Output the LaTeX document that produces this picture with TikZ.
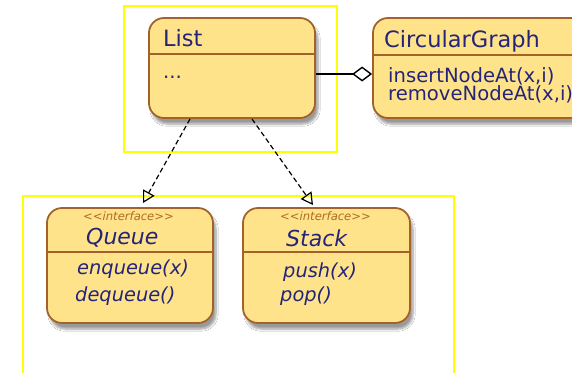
\documentclass[tikz,border=0pt]{standalone}
\usepackage{fontspec}
\setmainfont{DejaVu Sans}
\usetikzlibrary{arrows.meta,shadows.blur}
\definecolor{clsfill}{RGB}{255,227,138}
\definecolor{clsborder}{RGB}{164,98,42}
\definecolor{txtblue}{RGB}{36,36,120}
\definecolor{stereo}{RGB}{176,106,40}
\definecolor{pkgyellow}{RGB}{255,255,0}
\tikzset{
  cls/.style={draw=clsborder, fill=clsfill, line width=1.8pt, rounded corners=15pt,
    blur shadow={shadow xshift=3pt, shadow yshift=-6pt, shadow blur steps=8, shadow blur extra rounding=4pt, shadow opacity=40},
    inner sep=0pt},
  divider/.style={draw=clsborder, line width=1.5pt},
  pkg/.style={draw=pkgyellow, line width=2pt},
  ttl/.style={anchor=base west, inner sep=0pt, text=txtblue, font=\fontsize{22.5}{27}\selectfont},
  ittl/.style={anchor=base west, inner sep=0pt, text=txtblue, font=\fontsize{22}{27}\selectfont\itshape},
  meth/.style={anchor=base west, inner sep=0pt, text=txtblue, font=\fontsize{19.6}{23}\selectfont},
  imeth/.style={anchor=base west, inner sep=0pt, text=txtblue, font=\fontsize{19.4}{23}\selectfont\itshape},
  stereotype/.style={anchor=base west, inner sep=0pt, text=stereo, font=\fontsize{11.6}{14}\selectfont\itshape},
  dep/.style={dash pattern=on 5pt off 3pt, line width=1.2pt, -{Triangle[open, length=12pt, width=13pt, line width=1.2pt]}},
  agg/.style={line width=1.4pt, -{Diamond[open, length=20pt, width=15pt, line width=1.4pt]}}
}
\begin{document}
\begin{tikzpicture}[x=1pt, y=-1pt]
\useasboundingbox (0,0) rectangle (572,372);
\clip (0,0) rectangle (572,372);
\fill[white] (0,0) rectangle (572,372);
% packages
\draw[pkg] (124,6) rectangle (337,152);
\draw[pkg] (23,400) -- (23,196) -- (454,196) -- (454,400);
% classes
\node[cls, minimum width=166pt, minimum height=100pt] (list) at (232,68) {};
\node[cls, minimum width=214pt, minimum height=100pt] (cg) at (480,68) {};
\node[cls, minimum width=166pt, minimum height=115pt] (queue) at (130,265.5) {};
\node[cls, minimum width=167pt, minimum height=115pt] (stack) at (326.5,265.5) {};
% dividers
\draw[divider] (list.west |- 0,54) -- (list.east |- 0,54);
\draw[divider] (cg.west |- 0,55) -- (cg.east |- 0,55);
\draw[divider] (queue.west |- 0,252) -- (queue.east |- 0,252);
\draw[divider] (stack.west |- 0,252) -- (stack.east |- 0,252);
% texts
\node[ttl] (listname) at (163,46) {List};
\node[meth] (listdots) at (163,78) {...};
\node[ttl] (cgname) at (384,47) {CircularGraph};
\node[meth] (cgm1) at (388,82) {insertNodeAt(x,i)};
\node[meth] (cgm2) at (388,100) {removeNodeAt(x,i)};
\node[stereotype] (qst) at (83,220) {<{}<interface>{}>};
\node[ittl] (qname) at (86,244) {Queue};
\node[imeth] (qm1) at (77,274) {enqueue(x)};
\node[imeth] (qm2) at (75,301) {dequeue()};
\node[stereotype] (sst) at (280,220) {<{}<interface>{}>};
\node[ittl] (sname) at (286,246) {Stack};
\node[imeth] (sm1) at (283,277) {push(x)};
\node[imeth] (sm2) at (280,301) {pop()};
% connectors
\coordinate (l1) at (190,119);
\coordinate (l2) at (252,119);
\coordinate (qt) at (143,203);
\coordinate (st) at (313,205);
\draw[dep] (l1) -- (qt);
\draw[dep] (l2) -- (st);
\draw[agg] (list.east |- 0,74) -- (cg.west |- 0,74);
\end{tikzpicture}
\end{document}
